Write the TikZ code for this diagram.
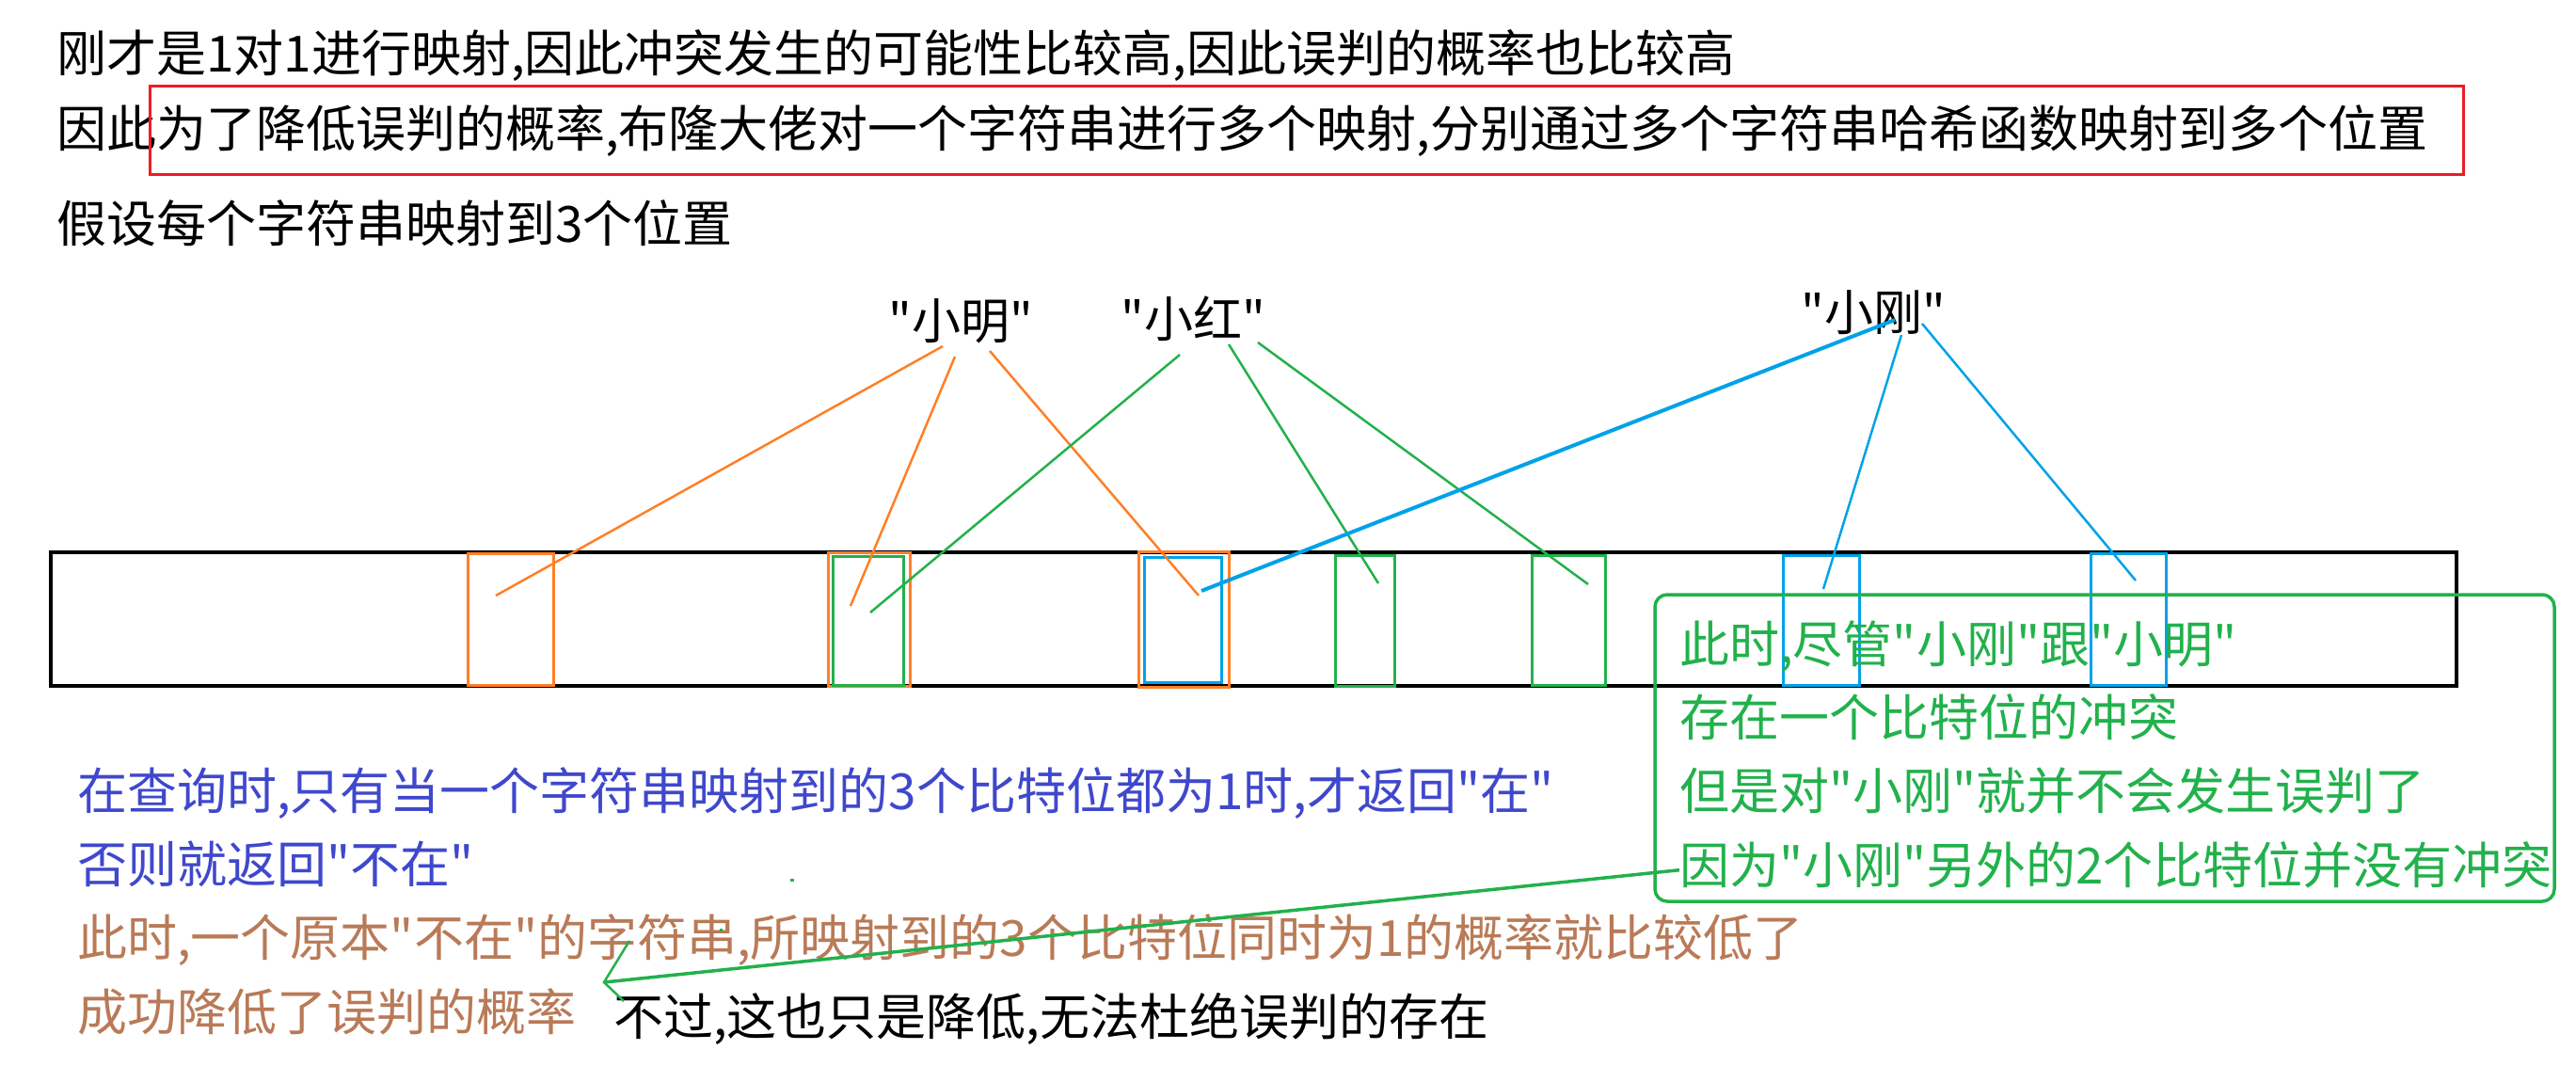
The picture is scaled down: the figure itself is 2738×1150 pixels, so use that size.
\documentclass[tikz,border=0pt]{standalone}
\usepackage{fontspec}
\setmainfont{Noto Sans CJK SC}[Ligatures=TeXOff]
\usetikzlibrary{positioning}

\definecolor{pred}{RGB}{237,28,36}
\definecolor{porange}{RGB}{255,127,39}
\definecolor{pgreen}{RGB}{34,177,76}
\definecolor{pblue}{RGB}{0,162,232}
\definecolor{pindigo}{RGB}{63,72,204}
\definecolor{pbrown}{RGB}{185,122,87}

\tikzstyle{say} = [inner sep=0pt, text height=41pt, text depth=12pt,
    font=\fontsize{53}{60}\selectfont, anchor=base west]
\tikzstyle{strname} = [inner sep=0pt, anchor=base, font=\fontsize{52}{60}\selectfont]
\tikzstyle{cell} = [draw, line width=3pt, inner sep=0pt]
\tikzstyle{hashline} = [line width=2.5pt]

\begin{document}
\begin{tikzpicture}[x=1pt, y=-1pt]
\useasboundingbox (0,0) rectangle (2738,1150);

\node[say] (top1) at (60,77) {刚才是1对1进行映射,因此冲突发生的可能性比较高,因此误判的概率也比较高};
\node[say, below=26pt of top1.south west, anchor=north west] (top2) {因此为了降低误判的概率,布隆大佬对一个字符串进行多个映射,分别通过多个字符串哈希函数映射到多个位置};
\node[say, below=48pt of top2.south west, anchor=north west] (top3) {假设每个字符串映射到3个位置};
\draw[pred, line width=3pt] (159,92) rectangle (2618,186);

\node[draw, line width=4pt, inner sep=0pt, minimum width=2557pt, minimum height=142pt] (bits) at (1332.5,658) {};
\node[cell, porange, minimum width=91pt, minimum height=140pt] (o1) at (543,658.5) {};
\node[cell, porange, minimum width=87pt, minimum height=142pt] (o2) at (924,658.5) {};
\node[cell, pgreen, minimum width=75pt, minimum height=137pt] (h1) at (923,660) {};
\node[cell, porange, minimum width=96pt, minimum height=144pt] (o3) at (1258.5,658.5) {};
\node[cell, pblue, minimum width=82pt, minimum height=133pt] (g1) at (1257.5,659) {};
\node[cell, pgreen, minimum width=63pt, minimum height=139pt] (h2) at (1451,660) {};
\node[cell, pgreen, minimum width=78pt, minimum height=138pt] (h3) at (1667.5,659.5) {};
\node[cell, pblue, minimum width=81pt, minimum height=138pt] (g2) at (1936,659.5) {};
\node[cell, pblue, minimum width=80pt, minimum height=140pt] (g3) at (2262.5,658.5) {};

\node[strname] (ming) at (1021,360) {"小明"};
\node[strname] (hong) at (1268,358) {"小红"};
\node[strname] (gang) at (1991,351) {"小刚"};

\coordinate (ming-a) at (1002,368);
\coordinate (ming-b) at (1015,379);
\coordinate (ming-c) at (1052,373);
\coordinate (hong-a) at (1254,377);
\coordinate (hong-b) at (1306,366);
\coordinate (hong-c) at (1337,364);
\coordinate (gang-a) at (2014,340);
\coordinate (gang-b) at (2021,356);
\coordinate (gang-c) at (2043,344);
\coordinate (o1-in) at (527,633);
\coordinate (o2-in) at (904,644);
\coordinate (o3-in) at (1274,633);
\coordinate (h1-in) at (925,651);
\coordinate (h2-in) at (1465,620);
\coordinate (h3-in) at (1688,621);
\coordinate (g1-in) at (1277,628);
\coordinate (g2-in) at (1938,626);
\coordinate (g3-in) at (2270,617);

\draw[hashline, porange] (ming-a) -- (o1-in);
\draw[hashline, porange] (ming-b) -- (o2-in);
\draw[hashline, porange] (ming-c) -- (o3-in);
\draw[hashline, pgreen] (hong-a) -- (h1-in);
\draw[hashline, pgreen] (hong-b) -- (h2-in);
\draw[hashline, pgreen] (hong-c) -- (h3-in);
\draw[hashline, pblue, line width=4pt] (gang-a) -- (g1-in);
\draw[hashline, pblue] (gang-b) -- (g2-in);
\draw[hashline, pblue] (gang-c) -- (g3-in);

\node[draw=pgreen, line width=3.5pt, rounded corners=13pt, inner sep=0pt,
    minimum width=956pt, minimum height=326pt] (note) at (2237,795) {};
\node[say, pgreen] (note1) at (1785,704) {此时,尽管"小刚"跟"小明"};
\node[say, pgreen, below=25pt of note1.south west, anchor=north west] (note2) {存在一个比特位的冲突};
\node[say, pgreen, below=25pt of note2.south west, anchor=north west] (note3) {但是对"小刚"就并不会发生误判了};
\node[say, pgreen, below=25pt of note3.south west, anchor=north west] (note4) {因为"小刚"另外的2个比特位并没有冲突};

\node[say, pindigo] (ask1) at (82,860) {在查询时,只有当一个字符串映射到的3个比特位都为1时,才返回"在"};
\node[say, pindigo, below=25pt of ask1.south west, anchor=north west] (ask2) {否则就返回"不在"};
\node[say, pbrown, below=25pt of ask2.south west, anchor=north west] (ask3) {此时,一个原本"不在"的字符串,所映射到的3个比特位同时为1的概率就比较低了};
\node[say, pbrown, below=25pt of ask3.south west, anchor=north west] (ask4) {成功降低了误判的概率};
\node[say] (but) at (652,1100) {不过,这也只是降低,无法杜绝误判的存在};

\coordinate (tip) at (642,1044);
\coordinate (barb1) at (669,1000);
\coordinate (barb2) at (663,1064);
\draw[pgreen, line width=3.5pt] (note4.west) -- (tip);
\draw[hashline, pgreen] (barb1) -- (tip) -- (barb2);
\fill[pgreen] (840,934) rectangle (844,937);
\fill[pgreen] (765,987) rectangle (768,990);
\end{tikzpicture}
\end{document}
